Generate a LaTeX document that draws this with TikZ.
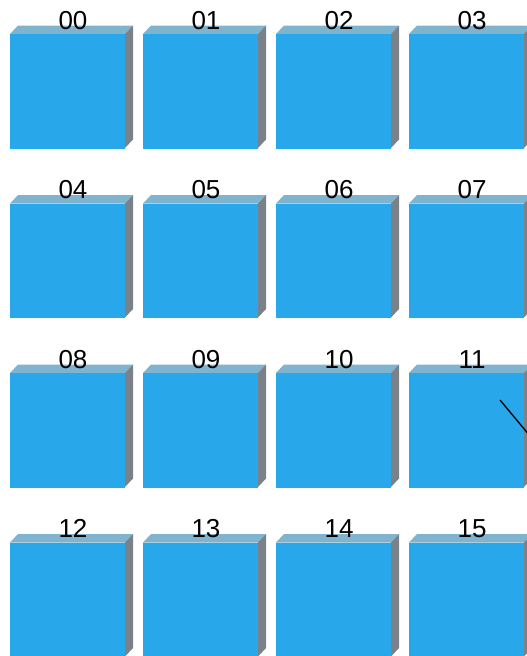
\documentclass[tikz,border=0pt]{standalone}
\usepackage{fontspec}
\setmainfont{Liberation Sans}
\definecolor{frontc}{RGB}{41,167,235}
\definecolor{topc}{RGB}{128,180,206}
\definecolor{sidec}{RGB}{122,129,137}
\tikzset{
  lbl/.style={font=\fontsize{26}{26}\selectfont, text=black, inner sep=0pt, anchor=base},
}
\begin{document}
\begin{tikzpicture}[x=1pt,y=-1pt]
\useasboundingbox (0,0) rectangle (527,656);
\clip (0,0) rectangle (527,656);
\foreach \r in {0,1,2,3}{
  \foreach \c in {0,1,2,3}{
    \pgfmathsetmacro{\X}{10+133*\c}
    \pgfmathsetmacro{\Y}{34+169.5*\r}
    \pgfmathtruncatemacro{\n}{4*\r+\c}
    % top face
    \fill[topc] (\X,\Y) -- ++(8,-8.5) -- ++(115,0) -- ++(-8,8.5) -- cycle;
    % side face
    \fill[sidec] (\X+115,\Y) -- ++(8,-8.5) -- ++(0,114) -- ++(-8,8.5) -- cycle;
    % front face
    \fill[frontc] (\X,\Y) rectangle ++(115,114.5);
    \node[lbl] (l\r\c) at (\X+63,\Y-5) {\ifnum\n<10 0\fi\n};
  }
}
\coordinate (la) at (500,400);
\coordinate (lb) at (530,436);
\draw[black, line width=1.3pt] (la) -- (lb);
\end{tikzpicture}
\end{document}
